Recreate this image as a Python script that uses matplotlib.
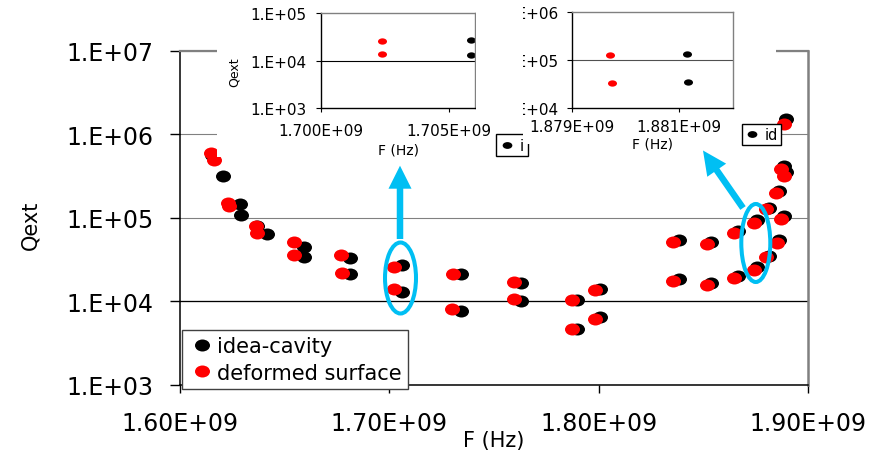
import matplotlib
matplotlib.use("Agg")
import matplotlib.pyplot as plt
from matplotlib.path import Path
from matplotlib.transforms import Affine2D, IdentityTransform
from matplotlib.patches import Rectangle, Ellipse, FancyArrow
from matplotlib.lines import Line2D
from matplotlib.ticker import FixedLocator, FixedFormatter, NullLocator

# ---------------- data ----------------
# ideal cavity (black)
F_ideal = [1.6155e9, 1.6206e9, 1.6287e9, 1.6290e9, 1.6366e9, 1.6415e9,
           1.6591e9, 1.6591e9, 1.6811e9, 1.6811e9, 1.70586e9, 1.70586e9,
           1.7340e9, 1.7340e9, 1.7627e9, 1.7627e9, 1.7898e9, 1.7898e9,
           1.8006e9, 1.8006e9, 1.8384e9, 1.8384e9, 1.8538e9, 1.8538e9,
           1.8664e9, 1.8664e9, 1.8756e9, 1.8756e9, 1.88115e9, 1.88115e9,
           1.8861e9, 1.8861e9, 1.8887e9, 1.8887e9, 1.8897e9, 1.8897e9]
Q_ideal = [5.7e5, 3.2e5, 1.47e5, 1.07e5, 8.0e4, 6.4e4,
           4.5e4, 3.4e4, 3.27e4, 2.11e4, 2.7e4, 1.3e4,
           2.11e4, 7.6e3, 1.68e4, 1.01e4, 1.03e4, 4.7e3,
           1.39e4, 6.5e3, 5.5e4, 1.87e4, 5.2e4, 1.65e4,
           6.9e4, 2.0e4, 9.3e4, 2.6e4, 1.3e5, 3.5e4,
           2.12e5, 5.4e4, 4.2e5, 1.05e5, 1.53e6, 3.5e5]
# deformed surface (red)
F_def = [1.6150e9, 1.6163e9, 1.6231e9, 1.6233e9, 1.6364e9, 1.6367e9,
         1.6545e9, 1.6545e9, 1.6770e9, 1.6772e9, 1.70238e9, 1.70238e9,
         1.7303e9, 1.7301e9, 1.7595e9, 1.7597e9, 1.7874e9, 1.7874e9,
         1.7981e9, 1.7981e9, 1.8354e9, 1.8357e9, 1.8517e9, 1.8519e9,
         1.8646e9, 1.8648e9, 1.8743e9, 1.8743e9, 1.8797e9, 1.8797e9,
         1.8849e9, 1.8850e9, 1.8871e9, 1.8871e9, 1.8884e9, 1.8885e9]
Q_def = [6.0e5, 4.9e5, 1.5e5, 1.37e5, 8.0e4, 6.6e4,
         5.14e4, 3.62e4, 3.62e4, 2.2e4, 2.6e4, 1.4e4,
         2.11e4, 8.2e3, 1.71e4, 1.08e4, 1.03e4, 4.7e3,
         1.36e4, 6.2e3, 5.14e4, 1.74e4, 4.9e4, 1.58e4,
         6.5e4, 1.9e4, 8.7e4, 2.4e4, 1.26e5, 3.4e4,
         1.98e5, 5.0e4, 3.79e5, 9.6e4, 1.33e6, 3.16e5]

main_xticks = [1.6e9, 1.7e9, 1.8e9, 1.9e9]
main_xticklabels = ["1.60E+09", "1.70E+09", "1.80E+09", "1.90E+09"]
main_yticks = [1e3, 1e4, 1e5, 1e6, 1e7]
main_yticklabels = ["1.E+03", "1.E+04", "1.E+05", "1.E+06", "1.E+07"]

# inset 1 (zoom near 1.70 GHz)
in1_F_def = [1.70238e9, 1.70238e9]
in1_Q_def = [2.6e4, 1.4e4]
in1_F_ideal = [1.70586e9, 1.70586e9]
in1_Q_ideal = [2.7e4, 1.3e4]
in1_xticks = [1.700e9, 1.705e9]
in1_xticklabels = ["1.700E+09", "1.705E+09"]
in1_yticks = [1e3, 1e4, 1e5]
in1_yticklabels = ["1.E+03", "1.E+04", "1.E+05"]

# inset 2 (zoom near 1.88 GHz)
in2_F_def = [1.87970e9, 1.87974e9]
in2_Q_def = [1.25e5, 3.3e4]
in2_F_ideal = [1.88115e9, 1.88117e9]
in2_Q_ideal = [1.3e5, 3.5e4]
in2_xticks = [1.879e9, 1.881e9]
in2_xticklabels = ["1.879E+09", "1.881E+09"]
in2_yticks = [1e4, 1e5, 1e6]
in2_yticklabels = ["1.E+04", "1.E+05", "1.E+06"]

# ---------------- layout helpers ----------------
W, H = 883, 452
fig = plt.figure(figsize=(W / 100, H / 100), dpi=100)
fig.patch.set_facecolor("white")


def fx(px):
    return px / W


def fy(py):
    return 1 - py / H


def rect(l, t, r, b):
    return [l / W, 1 - b / H, (r - l) / W, (b - t) / H]


circ = Path.unit_circle()
ell_main = circ.transformed(Affine2D().scale(1.0, 0.8))
ell_small = circ.transformed(Affine2D().scale(1.0, 0.7))
RED = "#FF0000"
GRAY = "#808080"
CYAN = "#00BFF3"

# ---------------- main axes ----------------
ax = fig.add_axes(rect(180, 51.7, 808, 386), zorder=0)
ax.set_yscale("log")
ax.set_xlim(1.6e9, 1.9e9)
ax.set_ylim(1e3, 1e7)
ax.plot(F_ideal, Q_ideal, ls="none", marker=ell_main, ms=10.8, mfc="black",
        mec="black", mew=0, label="idea-cavity", zorder=3)
ax.plot(F_def, Q_def, ls="none", marker=ell_main, ms=10.8, mfc=RED,
        mec=RED, mew=0, label="deformed surface", zorder=4)

ax.xaxis.set_major_locator(FixedLocator(main_xticks))
ax.xaxis.set_major_formatter(FixedFormatter(main_xticklabels))
ax.xaxis.set_minor_locator(NullLocator())
ax.yaxis.set_major_locator(FixedLocator(main_yticks))
ax.yaxis.set_major_formatter(FixedFormatter(main_yticklabels))
ax.yaxis.set_minor_locator(NullLocator())
ax.tick_params(axis="y", direction="out", length=7.2, width=1, pad=12, labelsize=17)
ax.tick_params(axis="x", direction="out", length=5.8, width=1, pad=13, labelsize=17)

ax.yaxis.grid(True, color=GRAY, lw=0.8)
ax.set_axisbelow(True)
ax.axhline(1e4, color="black", lw=0.9, zorder=1)
ax.spines["left"].set_linewidth(1.1)
ax.spines["bottom"].set_linewidth(1.1)
ax.spines["top"].set_color(GRAY)
ax.spines["top"].set_linewidth(1.6)
ax.spines["right"].set_color(GRAY)
ax.spines["right"].set_linewidth(1.8)

ax.set_ylabel("Qext", fontsize=15)
ax.yaxis.set_label_coords(-0.223, 0.4816)
ax.set_xlabel("F (Hz)", fontsize=15)
ax.xaxis.set_label_coords(0.5, (386 - 431) / 334.3)

leg = ax.legend(loc="lower left", bbox_to_anchor=(fx(182), fy(390)),
                bbox_transform=fig.transFigure, borderaxespad=0, fontsize=15,
                frameon=True, fancybox=False, edgecolor="#404040", framealpha=1,
                borderpad=0.3, handlelength=1.3, handletextpad=0.1,
                labelspacing=0.3)
leg.get_frame().set_linewidth(1.0)
leg.set_zorder(10)

# ---------------- white panels of the pasted insets ----------------
fig.add_artist(Rectangle((fx(217), fy(158)), (523 - 217) / W, 158 / H,
                         transform=fig.transFigure, facecolor="white",
                         edgecolor="none", zorder=1))

# ---------------- inset 1 ----------------
ax1 = fig.add_axes(rect(321, 14.3, 475, 109), zorder=2)
ax1.set_yscale("log")
ax1.set_xlim(1.700e9, 1.706e9)
ax1.set_ylim(1e3, 1e5)
ax1.plot(in1_F_def, in1_Q_def, ls="none", marker=ell_small, ms=6.5, mfc=RED, mec=RED, mew=0)
ax1.plot(in1_F_ideal, in1_Q_ideal, ls="none", marker=ell_small, ms=6.5, mfc="black", mec="black", mew=0)
ax1.xaxis.set_major_locator(FixedLocator(in1_xticks))
ax1.xaxis.set_major_formatter(FixedFormatter(in1_xticklabels))
ax1.xaxis.set_minor_locator(NullLocator())
ax1.yaxis.set_major_locator(FixedLocator(in1_yticks))
ax1.yaxis.set_major_formatter(FixedFormatter(in1_yticklabels))
ax1.yaxis.set_minor_locator(NullLocator())
ax1.tick_params(axis="y", length=3.6, width=0.8, pad=7, labelsize=11)
ax1.tick_params(axis="x", length=3.0, width=0.8, pad=7.5, labelsize=11)
ax1.axhline(1e4, color="black", lw=0.8, zorder=1)
for s in ("top", "right"):
    ax1.spines[s].set_color(GRAY)
    ax1.spines[s].set_linewidth(1.0)
for s in ("left", "bottom"):
    ax1.spines[s].set_linewidth(1.0)
ax1.set_ylabel("Qext", fontsize=9)
ax1.yaxis.set_label_coords(-0.519, 0.39)
ax1.set_xlabel("F (Hz)", fontsize=10)
ax1.xaxis.set_label_coords(0.5, (109 - 144) / 94.7)
l1 = ax1.legend(handles=[Line2D([], [], ls="none", marker=ell_small, ms=7,
                                mfc="black", mec="black", mew=0)],
                labels=["i"], loc="upper left",
                bbox_to_anchor=(fx(496), fy(135)), bbox_transform=fig.transFigure,
                borderaxespad=0, fontsize=10.5, fancybox=False, edgecolor="black",
                framealpha=1, borderpad=0.25, handlelength=1.0, handletextpad=0.4)
l1.get_frame().set_linewidth(1.0)

fig.add_artist(Rectangle((fx(523), fy(145)), (776 - 523) / W, 145 / H,
                         transform=fig.transFigure, facecolor="white",
                         edgecolor="none", zorder=3))

# ---------------- inset 2 ----------------
ax2 = fig.add_axes(rect(572, 12.7, 733, 109), zorder=4)
ax2.set_yscale("log")
ax2.set_xlim(1.879e9, 1.882e9)
ax2.set_ylim(1e4, 1e6)
ax2.plot(in2_F_def, in2_Q_def, ls="none", marker=ell_small, ms=6.5, mfc=RED, mec=RED, mew=0)
ax2.plot(in2_F_ideal, in2_Q_ideal, ls="none", marker=ell_small, ms=6.5, mfc="black", mec="black", mew=0)
ax2.xaxis.set_major_locator(FixedLocator(in2_xticks))
ax2.xaxis.set_major_formatter(FixedFormatter(in2_xticklabels))
ax2.xaxis.set_minor_locator(NullLocator())
ax2.yaxis.set_major_locator(FixedLocator(in2_yticks))
ax2.yaxis.set_major_formatter(FixedFormatter(in2_yticklabels))
ax2.yaxis.set_minor_locator(NullLocator())
ax2.tick_params(axis="y", length=3.6, width=0.8, pad=6, labelsize=11)
ax2.tick_params(axis="x", length=3.0, width=0.8, pad=5.0, labelsize=11)
ax2.axhline(1e5, color="#505050", lw=0.8, zorder=1)
for s in ("top", "right"):
    ax2.spines[s].set_color(GRAY)
    ax2.spines[s].set_linewidth(1.0)
for s in ("left", "bottom"):
    ax2.spines[s].set_linewidth(1.0)
ax2.set_xlabel("F (Hz)", fontsize=10)
ax2.xaxis.set_label_coords(0.5, (109 - 137) / 96.3)
l2 = ax2.legend(handles=[Line2D([], [], ls="none", marker=ell_small, ms=7,
                                mfc="black", mec="black", mew=0)],
                labels=["id"], loc="upper left",
                bbox_to_anchor=(fx(741.7), fy(125)), bbox_transform=fig.transFigure,
                borderaxespad=0, fontsize=10.5, fancybox=False, edgecolor="black",
                framealpha=1, borderpad=0.2, handlelength=1.0, handletextpad=0.4)
l2.get_frame().set_linewidth(1.0)

# crop edge of the second pasted inset
fig.add_artist(Rectangle((fx(476), fy(118)), (523 - 476) / W, 118 / H,
                         transform=fig.transFigure, facecolor="white",
                         edgecolor="none", zorder=5))

# ---------------- cyan annotations ----------------
idt = IdentityTransform()
fig.add_artist(Ellipse((400.5, H - 279), 31, 71, transform=idt, fill=False,
                       edgecolor=CYAN, lw=2.9, zorder=6))
fig.add_artist(Ellipse((755.8, H - 244), 29, 78, transform=idt, fill=False,
                       edgecolor=CYAN, lw=2.9, zorder=6))
fig.add_artist(FancyArrow(400, H - 240, 0, 240 - 166.7, width=6.5, head_width=23,
                          head_length=23, length_includes_head=True, color=CYAN,
                          lw=0, transform=idt, zorder=6))
fig.add_artist(FancyArrow(743, H - 209, -40, 209 - 151.5, width=6.5, head_width=23,
                          head_length=24, length_includes_head=True, color=CYAN,
                          lw=0, transform=idt, zorder=6))

fig.savefig("out.png", dpi=100)
